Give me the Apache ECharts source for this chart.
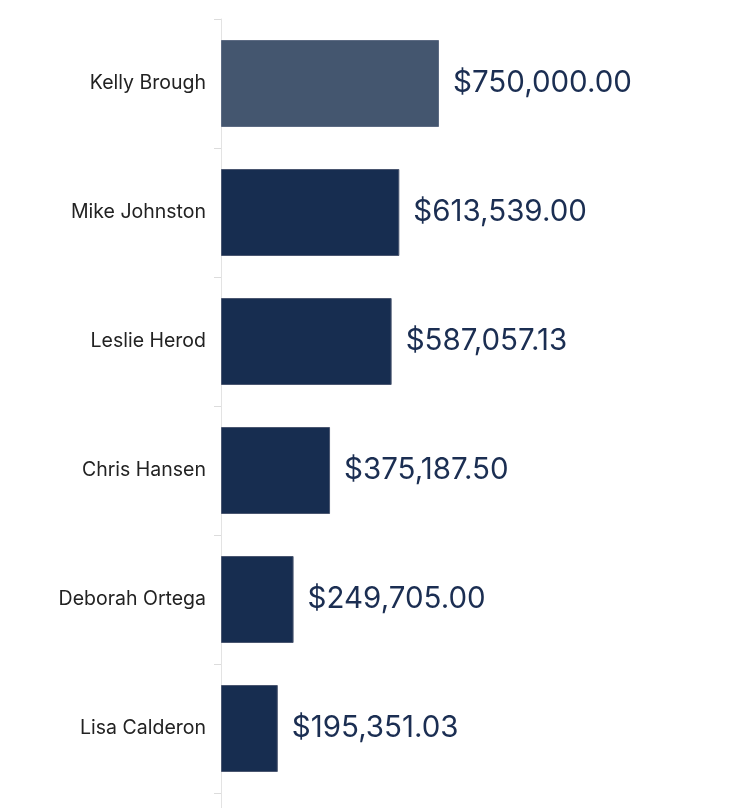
<!DOCTYPE html>
<html>
<head>
<meta charset="utf-8">
<script src="https://cdn.jsdelivr.net/npm/echarts@6/dist/echarts.min.js"></script>
<style>
  html, body { margin: 0; padding: 0; background: #fff; }
  #chart { width: 736px; height: 808px; }
</style>
</head>
<body>
<div id="chart"></div>
<script>
var names = ['Kelly Brough', 'Mike Johnston', 'Leslie Herod', 'Chris Hansen', 'Deborah Ortega', 'Lisa Calderon'];
var amounts = [750000.00, 613539.00, 587057.13, 375187.50, 249705.00, 195351.03];

function money(v) {
    return '$' + v.toLocaleString('en-US', { minimumFractionDigits: 2, maximumFractionDigits: 2 });
}

var barData = amounts.map(function (v, i) {
    if (i === 0) {
        return {
            value: v,
            itemStyle: { color: '#44566f', borderColor: '#5d6b83', borderWidth: 1 }
        };
    }
    return v;
});

var option = {
    animation: false,
    grid: { left: 221, top: 19, right: 79, height: 774, containLabel: false },
    xAxis: {
        type: 'value',
        min: 0,
        max: 1500000,
        show: false
    },
    yAxis: {
        type: 'category',
        inverse: true,
        data: names,
        axisLine: { show: true, lineStyle: { color: '#e3e3e3', width: 1 } },
        axisTick: { show: true, length: 7, lineStyle: { color: '#dcdcdc', width: 1 } },
        axisLabel: {
            margin: 15,
            fontFamily: 'Inter',
            fontSize: 19.5,
            color: '#222'
        }
    },
    series: [{
        type: 'bar',
        data: barData,
        barWidth: 87,
        itemStyle: { color: '#172d50', borderColor: '#4a5670', borderWidth: 1 },
        label: {
            show: true,
            position: 'right',
            distance: 14,
            fontFamily: 'Inter',
            fontSize: 29.5,
            color: '#1b2e52',
            formatter: function (p) { return money(p.value); }
        }
    }],
    graphic: [{
        type: 'line',
        shape: { x1: 221.5, y1: 793, x2: 221.5, y2: 808 },
        style: { stroke: '#e3e3e3', lineWidth: 1 }
    }]
};

var myChart = echarts.init(document.getElementById('chart'));
myChart.setOption(option);
</script>
</body>
</html>
